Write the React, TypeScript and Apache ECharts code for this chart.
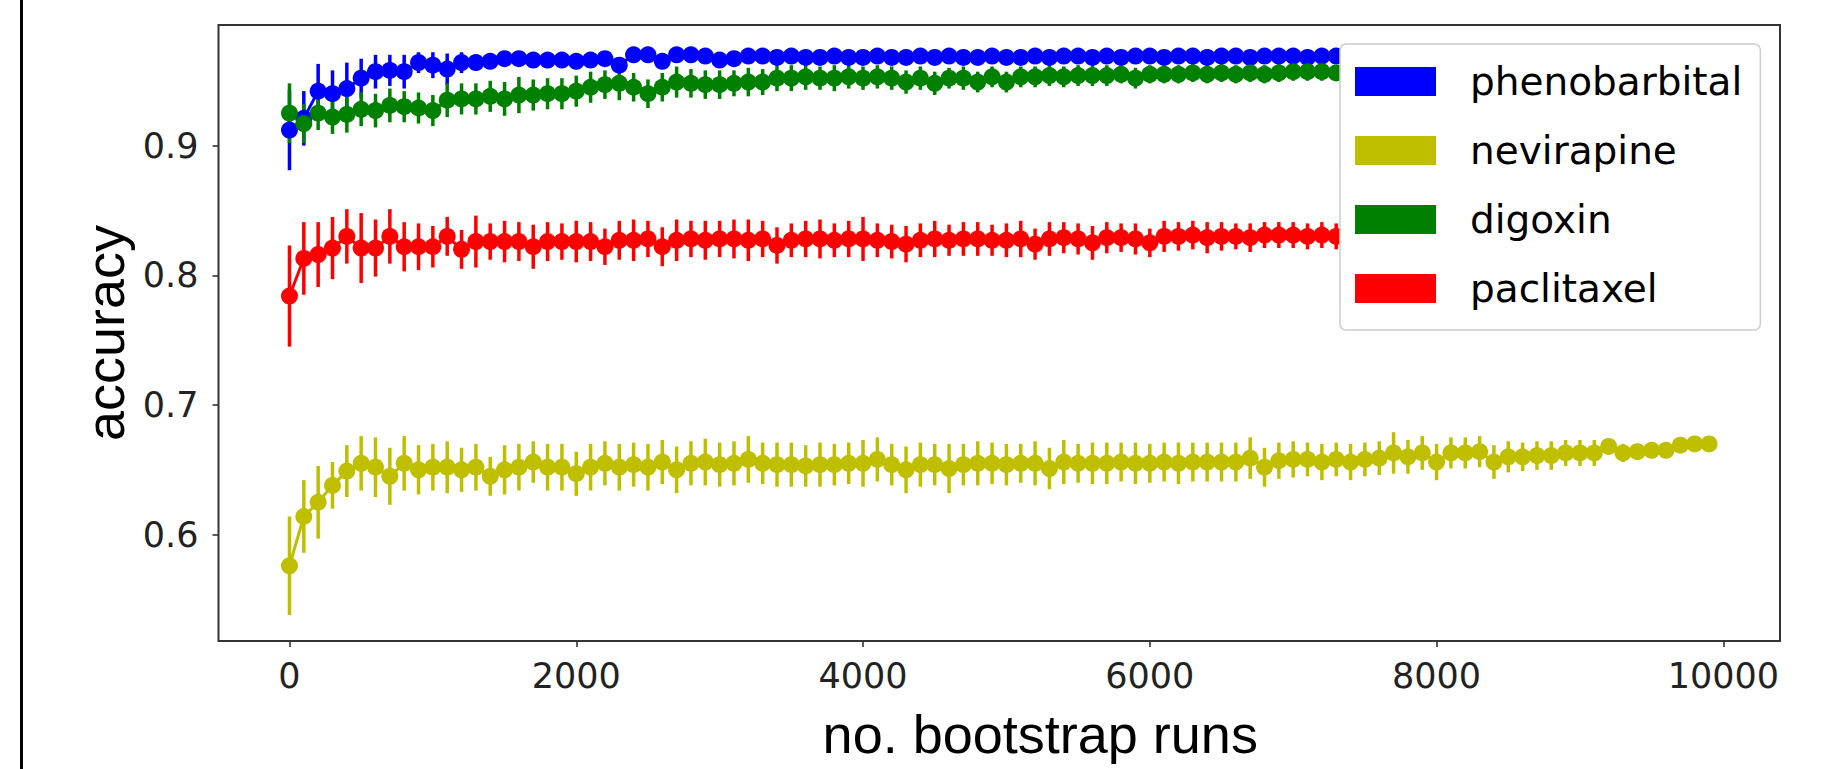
import React, { useEffect, useRef } from "react";
import * as echarts from "echarts";

// bootstrap run counts (x positions of the points)
const RUNS: number[] = Array.from({ length: 100 }, (_, i) => i * 100);

const X_TICKS = [0, 2000, 4000, 6000, 8000, 10000];
const Y_TICKS = [0.6, 0.7, 0.8, 0.9];

const PHENO_MEAN = [
  0.912, 0.921, 0.942, 0.94, 0.944, 0.952, 0.957, 0.958, 0.957, 0.964,
  0.962, 0.959, 0.964, 0.964, 0.965, 0.967, 0.967, 0.966, 0.966, 0.966,
  0.965, 0.966, 0.967, 0.962, 0.97, 0.97, 0.965, 0.97, 0.97, 0.969,
  0.966, 0.967, 0.969, 0.969, 0.968, 0.969, 0.968, 0.968, 0.969, 0.968,
  0.968, 0.969, 0.968, 0.968, 0.969, 0.968, 0.969, 0.968, 0.968, 0.969,
  0.968, 0.968, 0.969, 0.968, 0.969, 0.969, 0.968, 0.969, 0.968, 0.969,
  0.969, 0.968, 0.969, 0.969, 0.968, 0.969, 0.969, 0.968, 0.969, 0.969,
  0.969, 0.968, 0.969, 0.969, 0.969, 0.968, 0.969, 0.969, 0.97, 0.969,
  0.969, 0.969, 0.97, 0.969, 0.969, 0.97, 0.969, 0.97, 0.969, 0.97,
  0.97, 0.969, 0.97, 0.97, 0.969, 0.97, 0.97, 0.97, 0.97, 0.97,
];
const PHENO_ERR = [
  0.031, 0.021, 0.021, 0.018, 0.02, 0.015, 0.013, 0.012, 0.013, 0.008,
  0.01, 0.012, 0.008, 0.006, 0.006, 0.005, 0.005, 0.005, 0.005, 0.005,
  0.005, 0.005, 0.005, 0.006, 0.004, 0.004, 0.005, 0.004, 0.004, 0.004,
  0.005, 0.004, 0.004, 0.004, 0.004, 0.004, 0.004, 0.004, 0.004, 0.004,
  0.004, 0.004, 0.004, 0.004, 0.004, 0.004, 0.004, 0.004, 0.004, 0.004,
  0.004, 0.004, 0.004, 0.003, 0.004, 0.003, 0.004, 0.003, 0.004, 0.003,
  0.003, 0.004, 0.003, 0.003, 0.003, 0.003, 0.003, 0.003, 0.003, 0.003,
  0.003, 0.003, 0.003, 0.003, 0.003, 0.003, 0.003, 0.003, 0.003, 0.003,
  0.003, 0.003, 0.003, 0.003, 0.003, 0.003, 0.003, 0.003, 0.003, 0.003,
  0.003, 0.003, 0.003, 0.003, 0.003, 0.003, 0.003, 0.003, 0.003, 0.003,
];

const NEVI_MEAN = [
  0.576, 0.614, 0.625, 0.638, 0.649, 0.655, 0.652, 0.645, 0.655, 0.65,
  0.652, 0.652, 0.65, 0.652, 0.645, 0.65, 0.652, 0.656, 0.652, 0.652,
  0.647, 0.652, 0.655, 0.652, 0.654, 0.652, 0.656, 0.65, 0.655, 0.656,
  0.654, 0.655, 0.658, 0.655, 0.654, 0.654, 0.653, 0.654, 0.654, 0.655,
  0.655, 0.658, 0.654, 0.65, 0.654, 0.654, 0.651, 0.654, 0.655, 0.655,
  0.654, 0.655, 0.655, 0.651, 0.656, 0.655, 0.655, 0.655, 0.656, 0.655,
  0.655, 0.656, 0.655, 0.656, 0.656, 0.656, 0.656, 0.659, 0.652, 0.657,
  0.658, 0.658, 0.656, 0.658, 0.656, 0.658, 0.659, 0.663, 0.66, 0.663,
  0.656, 0.663, 0.663, 0.664, 0.656, 0.66, 0.66, 0.661, 0.661, 0.663,
  0.663, 0.663, 0.668, 0.663, 0.664, 0.665, 0.665, 0.669, 0.67, 0.67,
];
const NEVI_ERR = [
  0.038, 0.028, 0.028, 0.018, 0.02, 0.021, 0.023, 0.022, 0.021, 0.019,
  0.018, 0.02, 0.017, 0.018, 0.015, 0.019, 0.018, 0.016, 0.018, 0.018,
  0.017, 0.018, 0.017, 0.018, 0.017, 0.018, 0.017, 0.018, 0.017, 0.018,
  0.017, 0.017, 0.018, 0.016, 0.017, 0.017, 0.016, 0.017, 0.016, 0.016,
  0.018, 0.017, 0.016, 0.018, 0.017, 0.016, 0.019, 0.016, 0.017, 0.016,
  0.016, 0.015, 0.017, 0.016, 0.017, 0.015, 0.016, 0.016, 0.015, 0.016,
  0.015, 0.015, 0.016, 0.015, 0.015, 0.015, 0.015, 0.016, 0.015, 0.014,
  0.014, 0.013, 0.014, 0.013, 0.014, 0.013, 0.013, 0.016, 0.013, 0.013,
  0.014, 0.012, 0.012, 0.012, 0.013, 0.012, 0.011, 0.011, 0.011, 0.01,
  0.01, 0.01, 0.006, 0.007, 0.006, 0.005, 0.005, 0.004, 0.003, 0.003,
];

const DIGO_MEAN = [
  0.925, 0.917, 0.925, 0.922, 0.924, 0.928, 0.927, 0.931, 0.93, 0.929,
  0.927, 0.935, 0.936, 0.936, 0.938, 0.936, 0.939, 0.939, 0.94, 0.94,
  0.942, 0.945, 0.947, 0.948, 0.945, 0.94, 0.945, 0.949, 0.948, 0.947,
  0.947, 0.948, 0.949, 0.949, 0.952, 0.952, 0.953, 0.952, 0.952, 0.953,
  0.952, 0.953, 0.952, 0.949, 0.952, 0.948, 0.952, 0.952, 0.949, 0.953,
  0.949, 0.953, 0.953, 0.954, 0.953, 0.954, 0.954, 0.954, 0.955, 0.952,
  0.955, 0.955, 0.955, 0.956, 0.955, 0.956, 0.955, 0.956, 0.955, 0.956,
  0.957, 0.957, 0.957, 0.956, 0.957, 0.957, 0.956, 0.957, 0.958, 0.957,
  0.957, 0.958, 0.957, 0.958, 0.958, 0.957, 0.958, 0.958, 0.959, 0.958,
  0.958, 0.959, 0.958, 0.959, 0.959, 0.958, 0.959, 0.959, 0.96, 0.959,
];
const DIGO_ERR = [
  0.023, 0.015, 0.013, 0.013, 0.014, 0.013, 0.013, 0.013, 0.012, 0.012,
  0.012, 0.013, 0.012, 0.012, 0.012, 0.013, 0.014, 0.012, 0.012, 0.012,
  0.012, 0.012, 0.011, 0.013, 0.011, 0.011, 0.011, 0.012, 0.011, 0.011,
  0.011, 0.01, 0.011, 0.01, 0.01, 0.01, 0.01, 0.009, 0.01, 0.009,
  0.009, 0.009, 0.009, 0.009, 0.009, 0.009, 0.008, 0.009, 0.008, 0.008,
  0.008, 0.008, 0.008, 0.008, 0.008, 0.008, 0.008, 0.008, 0.007, 0.008,
  0.007, 0.007, 0.007, 0.007, 0.007, 0.007, 0.007, 0.007, 0.007, 0.007,
  0.007, 0.007, 0.007, 0.006, 0.007, 0.006, 0.006, 0.006, 0.006, 0.006,
  0.006, 0.006, 0.006, 0.006, 0.006, 0.006, 0.006, 0.006, 0.006, 0.006,
  0.006, 0.006, 0.006, 0.006, 0.006, 0.006, 0.006, 0.006, 0.006, 0.006,
];

const PACLI_MEAN = [
  0.784, 0.813, 0.816, 0.821, 0.83, 0.821, 0.821, 0.83, 0.822, 0.822,
  0.822, 0.83, 0.82, 0.826, 0.826, 0.826, 0.826, 0.822, 0.826, 0.826,
  0.826, 0.826, 0.822, 0.827, 0.827, 0.828, 0.822, 0.827, 0.828, 0.827,
  0.828, 0.828, 0.827, 0.828, 0.823, 0.827, 0.828, 0.828, 0.827, 0.828,
  0.828, 0.827, 0.826, 0.824, 0.827, 0.828, 0.827, 0.828, 0.828, 0.827,
  0.827, 0.828, 0.824, 0.828, 0.829, 0.828, 0.825, 0.829, 0.829, 0.828,
  0.825, 0.83, 0.83, 0.831, 0.829, 0.83, 0.83, 0.829, 0.831, 0.831,
  0.831, 0.83, 0.831, 0.83, 0.831, 0.831, 0.83, 0.831, 0.831, 0.832,
  0.831, 0.831, 0.832, 0.831, 0.832, 0.831, 0.832, 0.832, 0.831, 0.832,
  0.832, 0.832, 0.831, 0.832, 0.832, 0.833, 0.832, 0.832, 0.833, 0.832,
];
const PACLI_ERR = [
  0.039, 0.028, 0.025, 0.024, 0.021, 0.027, 0.022, 0.021, 0.019, 0.018,
  0.016, 0.015, 0.015, 0.02, 0.014, 0.016, 0.015, 0.017, 0.015, 0.014,
  0.016, 0.015, 0.014, 0.015, 0.016, 0.014, 0.015, 0.016, 0.014, 0.015,
  0.014, 0.015, 0.016, 0.014, 0.014, 0.013, 0.014, 0.015, 0.013, 0.014,
  0.017, 0.013, 0.013, 0.014, 0.013, 0.014, 0.012, 0.013, 0.013, 0.012,
  0.013, 0.014, 0.012, 0.013, 0.012, 0.012, 0.013, 0.012, 0.011, 0.012,
  0.011, 0.012, 0.011, 0.011, 0.012, 0.011, 0.01, 0.011, 0.01, 0.01,
  0.01, 0.01, 0.01, 0.01, 0.01, 0.01, 0.01, 0.01, 0.01, 0.01,
  0.01, 0.01, 0.01, 0.01, 0.01, 0.01, 0.01, 0.01, 0.01, 0.01,
  0.01, 0.01, 0.01, 0.01, 0.01, 0.01, 0.01, 0.01, 0.01, 0.01,
];

const DRUG_NAMES = ["phenobarbital", "nevirapine", "digoxin", "paclitaxel"];
const DRUG_COLORS = ["#0000ff", "#bfbf00", "#008000", "#ff0000"];
const DRUG_MEANS = [PHENO_MEAN, NEVI_MEAN, DIGO_MEAN, PACLI_MEAN];
const DRUG_ERRS = [PHENO_ERR, NEVI_ERR, DIGO_ERR, PACLI_ERR];

function buildOption() {
  const series: any[] = [];
  DRUG_NAMES.forEach((name, k) => {
    const color = DRUG_COLORS[k];
    const mean = DRUG_MEANS[k];
    const err = DRUG_ERRS[k];
    series.push({
      type: "custom",
      name: name + " error",
      data: RUNS.map((x, i) => [x, mean[i] - err[i], mean[i] + err[i]]),
      encode: { x: 0, y: [1, 2] },
      silent: true,
      renderItem: (params: any, api: any) => {
        const x = api.value(0);
        const p1 = api.coord([x, api.value(1)]);
        const p2 = api.coord([x, api.value(2)]);
        return {
          type: "line",
          shape: { x1: p1[0], y1: p1[1], x2: p2[0], y2: p2[1] },
          style: { stroke: color, lineWidth: 3.5 },
        };
      },
    });
    series.push({
      type: "line",
      name,
      data: RUNS.map((x, i) => [x, mean[i]]),
      symbol: "circle",
      symbolSize: 17,
      showSymbol: true,
      showAllSymbol: true,
      lineStyle: { width: 3, color },
      itemStyle: { color },
      emphasis: { disabled: true },
      silent: true,
    });
  });

  const tickLine = { color: "#333333", width: 1.6 };
  const tickFont = { fontFamily: "DejaVu Sans", fontSize: 35, color: "#222222" };

  return {
    animation: false,
    backgroundColor: "#ffffff",
    grid: {
      left: 218.5,
      top: 25,
      width: 1561.5,
      height: 616,
      show: true,
      borderColor: "#333333",
      borderWidth: 2,
      backgroundColor: "transparent",
      containLabel: false,
      outerBoundsMode: "none",
    },
    xAxis: {
      type: "value",
      position: "bottom",
      min: -495,
      max: 10395,
      axisLine: { show: false, onZero: false },
      splitLine: { show: false },
      axisTick: {
        show: true,
        length: 6,
        customValues: X_TICKS,
        lineStyle: tickLine,
      },
      axisLabel: {
        customValues: X_TICKS,
        formatter: (v: number) => String(v),
        hideOverlap: false,
        margin: 17,
        ...tickFont,
      },
      name: "no. bootstrap runs",
      nameLocation: "middle",
      nameGap: 66,
      nameMoveOverlap: false,
      nameTextStyle: {
        fontFamily: "Liberation Sans",
        fontSize: 54,
        color: "#000000",
        padding: [0, 0, 0, 82],
      },
    },
    yAxis: {
      type: "value",
      position: "left",
      min: 0.518,
      max: 0.993,
      axisLine: { show: false, onZero: false },
      splitLine: { show: false },
      axisTick: {
        show: true,
        length: 6,
        customValues: Y_TICKS,
        lineStyle: tickLine,
      },
      axisLabel: {
        customValues: Y_TICKS,
        formatter: (v: number) => v.toFixed(1),
        hideOverlap: false,
        margin: 20,
        ...tickFont,
      },
      name: "accuracy",
      nameLocation: "middle",
      nameGap: 87,
      nameMoveOverlap: false,
      nameTextStyle: {
        fontFamily: "Liberation Sans",
        fontSize: 54,
        color: "#000000",
      },
    },
    legend: {
      data: DRUG_NAMES,
      orient: "vertical",
      left: 1340,
      top: 44,
      padding: [18, 18, 22, 15],
      itemWidth: 81,
      itemHeight: 29,
      itemGap: 30,
      icon: "rect",
      backgroundColor: "#ffffff",
      borderColor: "#cccccc",
      borderWidth: 1.5,
      borderRadius: 6,
      selectedMode: false,
      textStyle: {
        fontFamily: "DejaVu Sans",
        fontSize: 39,
        color: "#000000",
        lineHeight: 29,
        padding: [0, 0, 0, 29],
      },
    },
    graphic: [
      {
        type: "line",
        shape: { x1: 21.5, y1: 0, x2: 21.5, y2: 769 },
        style: { stroke: "#000000", lineWidth: 3 },
        silent: true,
      },
    ],
    series,
  };
}

export default function App() {
  const ref = useRef<HTMLDivElement>(null);
  useEffect(() => {
    document.body.style.margin = "0";
    const chart = echarts.init(ref.current!, null, { renderer: "svg" });
    chart.setOption(buildOption() as any);
    return () => chart.dispose();
  }, []);
  return (
    <div
      ref={ref}
      style={{ position: "absolute", left: 0, top: 0, width: 1829, height: 769 }}
    />
  );
}
